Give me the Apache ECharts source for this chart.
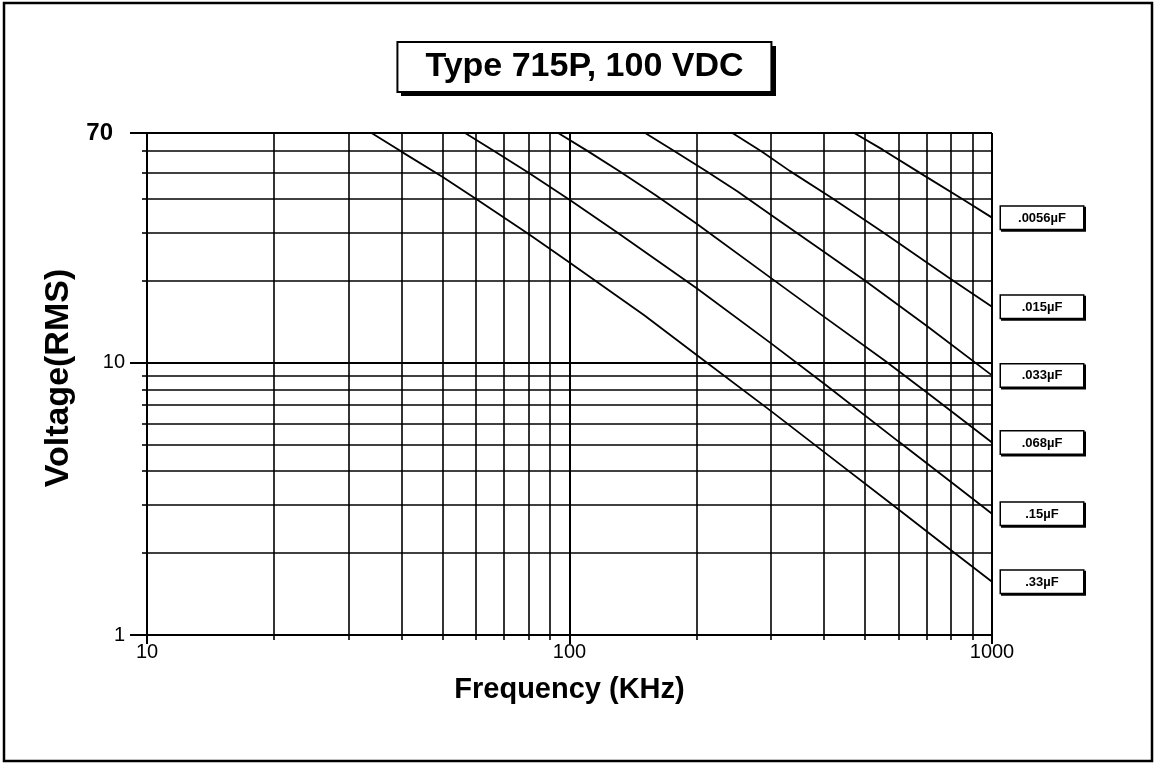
<!DOCTYPE html>
<html>
<head>
<meta charset="UTF-8">
<title>Type 715P, 100 VDC</title>
<script src="https://cdn.jsdelivr.net/npm/echarts@6/dist/echarts.min.js"></script>
<style>
  html, body { margin: 0; padding: 0; background: #fff; }
  #main { width: 1156px; height: 765px; }
</style>
</head>
<body>
<div id="main"></div>
<script>
// tick values
var xMajor = [10, 100, 1000];
var xMinor = [20, 30, 40, 50, 60, 70, 80, 90, 200, 300, 400, 500, 600, 700, 800, 900];
var yMajor = [1, 10, 70];
var yMinor = [2, 3, 4, 5, 6, 7, 8, 9, 20, 30, 40, 50, 60];

// curves: frequency (KHz) / voltage (RMS)
var names = ['.0056µF', '.015µF', '.033µF', '.068µF', '.15µF', '.33µF'];

var f0056 = [10, 472, 551, 690, 860, 1000];
var v0056 = [70, 70, 60.8, 48.9, 39.6, 34.2];

var f015 = [10, 243, 285, 332, 417, 551, 800, 1000];
var v015 = [70, 70, 59.8, 50.8, 40.5, 30.3, 20.3, 16.1];

var f033 = [10, 151, 175, 210, 250, 300, 400, 500, 700, 1000];
var v033 = [70, 70, 60.8, 50.9, 42.7, 35.0, 25.6, 20.1, 13.7, 9.0];

var f068 = [10, 94, 110, 131, 160, 200, 300, 400, 557, 700, 1000];
var v068 = [70, 70, 60.3, 50.7, 41.3, 32.5, 20.5, 14.8, 10.2, 7.8, 5.1];

var f15 = [10, 56.6, 65, 80, 100, 130, 200, 300, 400, 600, 800, 1000];
var v15 = [70, 70, 61.3, 50, 39.8, 30.1, 18.8, 11.8, 8.4, 5.15, 3.65, 2.79];

var f33 = [10, 34, 40, 50, 60, 80, 100, 150, 200, 300, 400, 600, 800, 1000];
var v33 = [70, 70, 59.8, 48.3, 40.1, 29.8, 23.4, 15.0, 10.7, 6.65, 4.71, 2.9, 2.05, 1.57];

var freqs = [f0056, f015, f033, f068, f15, f33];
var volts = [v0056, v015, v033, v068, v15, v33];

var font = '"Liberation Sans", Arial, Helvetica, sans-serif';

function zip(a, b) {
  var out = [];
  for (var i = 0; i < a.length; i++) out.push([a[i], b[i]]);
  return out;
}

// title box: fixed width like the original, text measured to centre it
var titleText = 'Type 715P, 100 VDC';
var titleBox = { left: 397, top: 42, width: 375, height: 50 };
var cv = document.createElement('canvas').getContext('2d');
cv.font = 'bold 34px ' + font;
var titleW = cv.measureText(titleText).width;
var padH = Math.max(4, (titleBox.width - titleW) / 2);

var series = [];
for (var i = 0; i < names.length; i++) {
  series.push({
    name: names[i],
    type: 'line',
    data: zip(freqs[i], volts[i]),
    showSymbol: false,
    silent: true,
    lineStyle: { color: '#000', width: 1.8 },
    endLabel: {
      show: true,
      distance: 9,
      formatter: function (p) { return '{t|' + p.seriesName + '}'; },
      backgroundColor: '#fff',
      borderColor: '#000',
      borderWidth: 1.5,
      padding: [5, 3, 4, 3],
      shadowColor: '#000',
      shadowOffsetX: 1.5,
      shadowOffsetY: 1.5,
      shadowBlur: 0,
      rich: {
        t: { width: 76, align: 'center', fontSize: 13, fontWeight: 'bold', color: '#000', fontFamily: font }
      }
    }
  });
}

var chart = echarts.init(document.getElementById('main'), null, { renderer: 'canvas' });

chart.setOption({
  animation: false,
  backgroundColor: '#fff',
  textStyle: { fontFamily: font },
  title: {
    text: titleText,
    left: titleBox.left,
    top: titleBox.top,
    z: 10,
    padding: [8, padH, 8, padH],
    backgroundColor: '#fff',
    borderColor: '#000',
    borderWidth: 2,
    textStyle: { fontSize: 34, fontWeight: 'bold', color: '#000', fontFamily: font }
  },
  graphic: [{
    type: 'rect',
    shape: { x: 4, y: 3, width: 1148, height: 758 },
    style: { fill: 'none', stroke: '#000', lineWidth: 2.5 },
    silent: true
  }, {
    // drop shadow behind the title box
    type: 'rect',
    z: 1,
    shape: { x: titleBox.left + 4, y: titleBox.top + 4, width: titleBox.width, height: titleBox.height },
    style: { fill: '#000' },
    silent: true
  }],
  grid: { left: 147, right: 164, top: 133, bottom: 130 },
  xAxis: [{
    type: 'log',
    logBase: 10,
    min: 10,
    max: 1000,
    name: 'Frequency (KHz)',
    nameLocation: 'middle',
    nameGap: 40,
    nameTextStyle: { fontSize: 29, fontWeight: 'bold', color: '#000', fontFamily: font },
    axisLine: { lineStyle: { color: '#000', width: 2 } },
    axisTick: { show: true, length: 9, customValues: xMajor, lineStyle: { color: '#000', width: 2 } },
    axisLabel: {
      customValues: xMajor,
      fontSize: 20,
      color: '#000',
      margin: 7,
      fontFamily: font,
      formatter: function (v) { return String(v); }
    },
    splitLine: { show: true, lineStyle: { color: '#000', width: 2 } }
  }, {
    type: 'log',
    logBase: 10,
    min: 10,
    max: 1000,
    position: 'bottom',
    axisLine: { show: false },
    axisTick: { show: true, length: 5, customValues: xMinor, lineStyle: { color: '#000', width: 1.6 } },
    axisLabel: { show: false },
    splitLine: { show: true, lineStyle: { color: '#000', width: 1.6 } }
  }],
  yAxis: [{
    type: 'log',
    logBase: 10,
    min: 1,
    max: 70,
    name: 'Voltage(RMS)',
    nameLocation: 'middle',
    nameRotate: 90,
    nameGap: 66,
    nameTextStyle: { fontSize: 34, fontWeight: 'bold', color: '#000', fontFamily: font, padding: [0, 0, 0, 12] },
    axisLine: { lineStyle: { color: '#000', width: 2 } },
    axisTick: { show: true, length: 17, customValues: yMajor, lineStyle: { color: '#000', width: 2 } },
    axisLabel: {
      customValues: yMajor,
      margin: 22,
      fontSize: 20,
      color: '#000',
      fontFamily: font,
      formatter: function (v) { return v === 70 ? '{b|70}' : String(v); },
      rich: { b: { fontSize: 24, fontWeight: 'bold', color: '#000', fontFamily: font, padding: [0, 12, 0, 0] } }
    },
    splitLine: { show: true, lineStyle: { color: '#000', width: 2 } }
  }, {
    type: 'log',
    logBase: 10,
    min: 1,
    max: 70,
    position: 'left',
    axisLine: { show: false },
    axisTick: { show: true, length: 5, customValues: yMinor, lineStyle: { color: '#000', width: 1.6 } },
    axisLabel: { show: false },
    splitLine: { show: true, lineStyle: { color: '#000', width: 1.6 } }
  }],
  series: series
});
</script>
</body>
</html>
